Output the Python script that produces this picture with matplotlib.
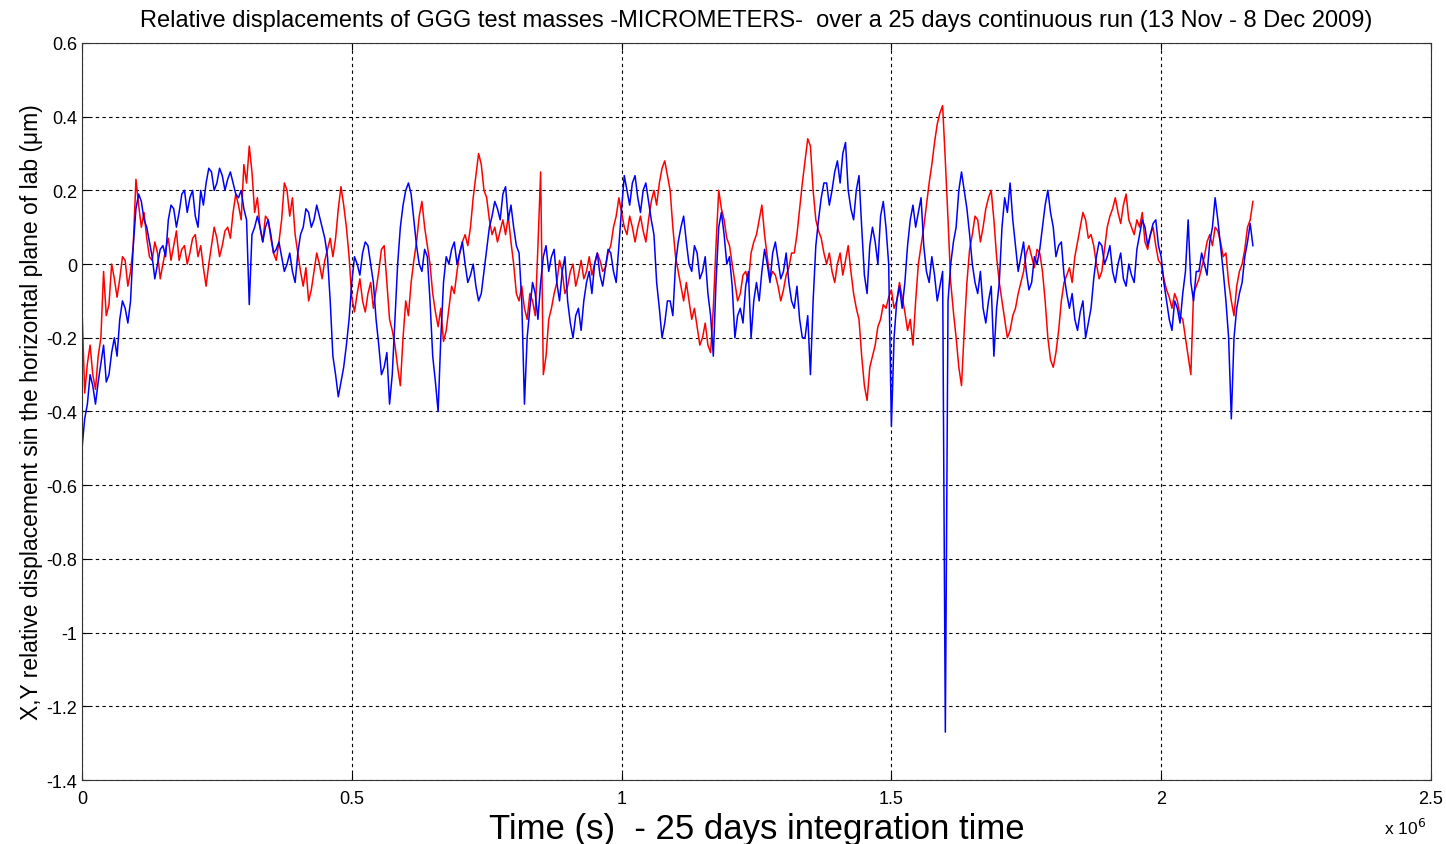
import numpy as np
import matplotlib
matplotlib.use("Agg")
import matplotlib.pyplot as plt
from matplotlib.ticker import FuncFormatter

plt.rcParams["font.family"] = ["Liberation Sans", "DejaVu Sans"]

# samples every 1e4 s
red = [
    -0.12, -0.27, -0.30, -0.25, -0.02, -0.11, -0.04, -0.04, 0.01, -0.02,
    0.23, 0.10, 0.07, 0.01, 0.03, 0.00, 0.07, 0.05, 0.01, 0.05,
    0.03, 0.08, 0.05, -0.06, 0.05, 0.07, 0.05, 0.10, 0.14, 0.16,
    0.27, 0.32, 0.14, 0.10, 0.13, 0.07, 0.01, 0.12, 0.20, 0.18,
    0.03, -0.06, -0.10, -0.02, 0.00, 0.01, 0.07, 0.07, 0.21, 0.10,
    -0.09, -0.08, -0.10, -0.08, -0.12, -0.02, 0.05, -0.15, -0.22, -0.33,
    -0.10, -0.05, 0.06, 0.17, 0.05, -0.08, -0.17, -0.21, -0.12, -0.08,
    0.03, 0.08, 0.10, 0.24, 0.27, 0.18, 0.08, 0.06, 0.12, 0.13,
    0.00, -0.10, -0.12, -0.08, -0.14, 0.25, -0.25, -0.12, -0.05, -0.02,
    -0.06, 0.00, -0.03, -0.04, 0.02, 0.00, 0.01, -0.01, 0.05, 0.13,
    0.14, 0.08, 0.10, 0.10, 0.09, 0.12, 0.20, 0.22, 0.28, 0.20,
    0.02, -0.06, -0.05, -0.15, -0.17, -0.20, -0.22, -0.12, 0.20, 0.12,
    0.05, -0.05, -0.08, -0.02, 0.03, 0.08, 0.16, 0.02, -0.02, -0.06,
    -0.07, -0.01, 0.03, 0.15, 0.28, 0.32, 0.12, 0.07, 0.00, -0.02,
    0.00, -0.03, 0.05, -0.08, -0.15, -0.33, -0.28, -0.22, -0.15, -0.12,
    -0.07, -0.10, -0.09, -0.18, -0.22, 0.00, 0.10, 0.22, 0.33, 0.41,
    0.28, -0.05, -0.20, -0.33, -0.05, 0.08, 0.12, 0.10, 0.18, 0.12,
    -0.05, -0.15, -0.18, -0.12, -0.05, 0.03, 0.02, 0.04, -0.02, -0.20,
    -0.28, -0.18, -0.05, -0.01, 0.02, 0.10, 0.12, 0.08, 0.00, -0.02,
    0.10, 0.15, 0.14, 0.16, 0.12, 0.08, 0.10, 0.06, 0.08, 0.05,
    0.00, -0.07, -0.12, -0.10, -0.15, -0.25, -0.08, -0.04, 0.02, 0.08,
    0.10, 0.06, 0.03, -0.10, -0.06, 0.00, 0.10, 0.17,
]
# in-between samples (5e3 s later), edges of the noise band
red_half = [
    -0.35, -0.22, -0.34, -0.20, -0.14, 0.00, -0.09, 0.02, -0.06, 0.05,
    0.16, 0.14, 0.02, 0.06, -0.04, 0.04, 0.01, 0.09, 0.04, 0.00,
    0.07, 0.02, -0.01, 0.00, 0.10, 0.02, 0.09, 0.07, 0.19, 0.12,
    0.22, 0.25, 0.18, 0.06, 0.12, 0.03, 0.06, 0.22, 0.13, 0.08,
    -0.02, -0.01, -0.07, 0.03, -0.04, 0.04, 0.02, 0.15, 0.16, 0.02,
    -0.13, -0.04, -0.13, -0.05, -0.07, 0.04, -0.05, -0.18, -0.28, -0.20,
    -0.14, 0.01, 0.13, 0.10, 0.00, -0.13, -0.12, -0.18, -0.06, -0.02,
    0.06, 0.05, 0.18, 0.30, 0.20, 0.12, 0.10, 0.09, 0.08, 0.06,
    -0.08, -0.06, -0.15, -0.10, 0.05, -0.30, -0.15, -0.08, 0.01, -0.08,
    -0.02, -0.06, 0.01, -0.02, -0.03, 0.03, -0.02, 0.03, 0.10, 0.18,
    0.10, 0.13, 0.06, 0.13, 0.06, 0.17, 0.16, 0.26, 0.24, 0.10,
    -0.02, -0.10, -0.10, -0.12, -0.22, -0.16, -0.24, 0.05, 0.15, 0.07,
    0.00, -0.10, -0.03, -0.05, 0.06, 0.12, 0.08, -0.04, -0.03, -0.10,
    -0.03, 0.03, 0.08, 0.22, 0.34, 0.20, 0.09, 0.03, 0.03, -0.05,
    0.03, 0.01, -0.02, -0.12, -0.25, -0.37, -0.25, -0.17, -0.11, -0.09,
    -0.12, -0.05, -0.13, -0.15, -0.10, 0.05, 0.16, 0.27, 0.38, 0.43,
    0.12, -0.13, -0.28, -0.18, 0.04, 0.13, 0.06, 0.15, 0.20, 0.02,
    -0.10, -0.20, -0.14, -0.08, -0.02, 0.05, -0.01, 0.03, -0.10, -0.26,
    -0.24, -0.10, -0.03, -0.05, 0.06, 0.14, 0.07, 0.05, -0.04, 0.04,
    0.13, 0.18, 0.11, 0.19, 0.10, 0.12, 0.14, 0.04, 0.10, 0.01,
    -0.04, -0.09, -0.08, -0.14, -0.20, -0.30, -0.06, -0.01, 0.06, 0.05,
    0.09, 0.02, -0.05, -0.14, -0.02, 0.04, 0.12,
]

blue = [
    -0.50, -0.38, -0.33, -0.32, -0.22, -0.30, -0.20, -0.15, -0.12, -0.10,
    0.15, 0.17, 0.10, 0.02, 0.00, 0.05, 0.12, 0.15, 0.14, 0.20,
    0.18, 0.13, 0.20, 0.22, 0.25, 0.22, 0.24, 0.23, 0.22, 0.18,
    0.15, -0.11, 0.10, 0.10, 0.10, 0.08, 0.04, 0.02, 0.00, -0.02,
    0.03, 0.10, 0.14, 0.12, 0.13, 0.07, -0.10, -0.30, -0.32, -0.22,
    -0.05, 0.00, 0.03, 0.05, -0.05, -0.22, -0.28, -0.38, -0.15, 0.10,
    0.20, 0.19, 0.05, -0.02, 0.02, -0.25, -0.40, -0.05, 0.00, 0.06,
    0.03, 0.00, -0.03, -0.06, -0.08, 0.04, 0.13, 0.15, 0.19, 0.12,
    0.10, 0.03, -0.38, -0.12, -0.08, -0.05, 0.05, 0.02, -0.05, -0.02,
    -0.10, -0.20, -0.12, -0.10, -0.02, 0.00, -0.03, -0.01, 0.03, -0.05,
    0.15, 0.20, 0.22, 0.18, 0.20, 0.17, 0.08, -0.12, -0.16, -0.10,
    0.00, 0.10, 0.06, -0.02, 0.03, -0.02, -0.08, -0.25, 0.10, 0.08,
    0.02, -0.20, -0.12, -0.06, -0.20, -0.05, -0.02, 0.00, 0.03, 0.01,
    -0.02, -0.05, -0.12, -0.15, -0.20, -0.30, 0.05, 0.18, 0.22, 0.20,
    0.28, 0.30, 0.20, 0.12, 0.24, -0.03, 0.05, 0.06, 0.13, 0.10,
    -0.44, -0.10, -0.12, 0.05, 0.16, 0.14, 0.05, -0.05, -0.03, -0.06,
    -1.27, 0.00, 0.10, 0.25, 0.15, 0.00, -0.08, -0.12, -0.10, -0.25,
    -0.05, 0.18, 0.22, 0.05, 0.02, -0.02, -0.05, 0.00, 0.10, 0.20,
    0.10, 0.05, -0.03, -0.12, -0.15, -0.13, -0.20, -0.12, 0.02, 0.05,
    0.02, -0.02, 0.00, -0.04, 0.00, -0.05, 0.08, 0.10, 0.08, 0.12,
    0.02, -0.10, -0.18, -0.12, -0.08, 0.12, -0.10, -0.02, 0.00, 0.06,
    0.18, 0.05, -0.10, -0.42, -0.12, -0.05, 0.06, 0.05,
]
blue_half = [
    -0.42, -0.30, -0.38, -0.27, -0.32, -0.24, -0.25, -0.10, -0.16, 0.05,
    0.19, 0.12, 0.06, -0.04, 0.04, 0.02, 0.16, 0.10, 0.19, 0.14,
    0.20, 0.10, 0.16, 0.26, 0.20, 0.26, 0.20, 0.25, 0.19, 0.20,
    0.12, 0.08, 0.13, 0.06, 0.12, 0.03, 0.06, -0.02, 0.03, -0.05,
    0.08, 0.15, 0.10, 0.16, 0.10, 0.02, -0.25, -0.36, -0.28, -0.15,
    0.02, -0.03, 0.06, 0.00, -0.15, -0.30, -0.24, -0.30, 0.00, 0.16,
    0.22, 0.12, 0.00, 0.04, -0.10, -0.32, -0.20, 0.02, 0.04, 0.00,
    0.06, -0.05, 0.00, -0.10, -0.02, 0.10, 0.17, 0.12, 0.21, 0.16,
    0.05, -0.10, -0.20, -0.05, -0.15, 0.02, -0.02, 0.04, -0.10, 0.02,
    -0.16, -0.14, -0.18, -0.05, -0.08, 0.03, -0.06, 0.04, -0.02, 0.05,
    0.24, 0.16, 0.24, 0.14, 0.22, 0.12, -0.05, -0.20, -0.10, -0.14,
    0.06, 0.13, 0.00, 0.05, -0.04, 0.02, -0.14, -0.05, 0.14, 0.00,
    -0.06, -0.14, -0.16, -0.02, -0.10, -0.10, 0.04, -0.05, 0.06, -0.04,
    0.03, -0.10, -0.06, -0.20, -0.14, -0.10, 0.12, 0.22, 0.16, 0.25,
    0.22, 0.33, 0.15, 0.20, 0.10, -0.08, 0.10, 0.00, 0.17, 0.00,
    -0.20, -0.06, -0.05, 0.12, 0.10, 0.18, -0.02, 0.02, -0.10, -0.02,
    -0.10, 0.06, 0.20, 0.20, 0.08, -0.05, -0.02, -0.16, -0.06, -0.12,
    0.10, 0.14, 0.12, -0.02, 0.06, -0.07, 0.02, 0.04, 0.16, 0.14,
    0.02, 0.06, -0.08, -0.08, -0.18, -0.10, -0.16, -0.04, 0.06, 0.00,
    0.05, -0.05, 0.03, -0.06, -0.03, 0.04, 0.12, 0.05, 0.11, 0.05,
    -0.05, -0.15, -0.10, -0.16, -0.02, -0.05, -0.02, 0.03, -0.03, 0.10,
    0.12, -0.02, -0.20, -0.20, -0.08, 0.02, 0.11,
]


def merge(main, half, step=1.0e4):
    tm = np.arange(len(main)) * step
    th = np.arange(len(half)) * step + step / 2
    tt = np.concatenate([tm, th])
    vv = np.concatenate([main, half])
    order = np.argsort(tt, kind="stable")
    return tt[order], vv[order]


t_r, y_r = merge(red, red_half)
t_b, y_b = merge(blue, blue_half)

fig = plt.figure(figsize=(14.46, 8.45), dpi=100)
ax = fig.add_axes([0.0567, 0.0757, 0.9329, 0.8723])

ax.plot(t_r, y_r, color="#ff0000", lw=1.1)
ax.plot(t_b, y_b, color="#0000ff", lw=1.1)

ax.set_xlim(0, 2.5e6)
ax.set_ylim(-1.4, 0.6)
ax.set_xticks(np.arange(0, 2.51e6, 0.5e6))
ax.set_yticks(np.arange(-1.4, 0.61, 0.2))
ax.xaxis.set_major_formatter(FuncFormatter(lambda v, p: "%g" % (v / 1e6)))
ax.yaxis.set_major_formatter(FuncFormatter(lambda v, p: "%g" % (round(v, 1) + 0.0)))
ax.tick_params(direction="in", top=True, right=True, labelsize=13, length=5)
ax.tick_params(axis="x", pad=7)
ax.grid(True, color="black", linestyle=(0, (3, 3)), linewidth=0.8)
for s in ax.spines.values():
    s.set_color("#333333")

ax.set_title("Relative displacements of GGG test masses -MICROMETERS-  over a 25 days continuous run (13 Nov - 8 Dec 2009)",
             fontsize=17, pad=12)
ax.set_xlabel("Time (s)  - 25 days integration time", fontsize=25, labelpad=4)
ax.set_ylabel("X,Y relative displacement sin the horizontal plane of lab (\u03bcm)", fontsize=16.5, labelpad=2)
fig.text(0.957, 0.012, r"x 10$^{6}$", fontsize=12.5)

fig.savefig("out.png", dpi=100)
